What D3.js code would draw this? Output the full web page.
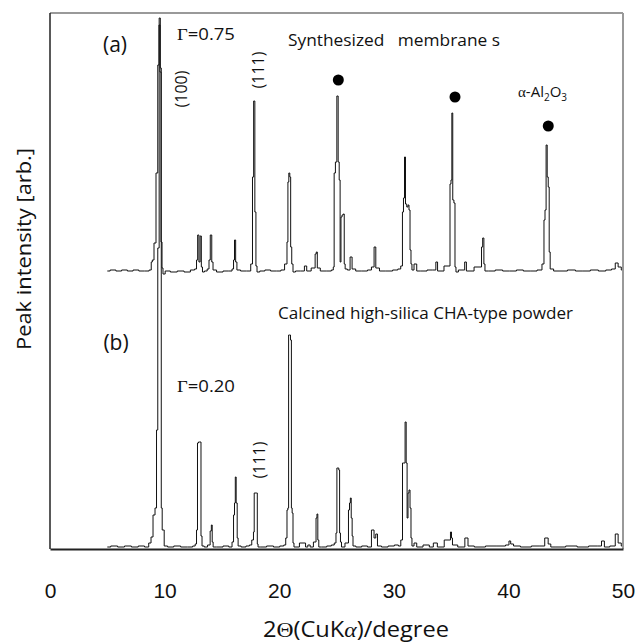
<!DOCTYPE html>
<html>
<head>
<meta charset="utf-8">
<script src="https://cdn.jsdelivr.net/npm/d3@7"></script>
<style>
    body { margin: 0; background: #fff; }
    svg { display: block; }
    .trace { fill: none; stroke: #111; stroke-width: 1; stroke-linejoin: miter; }
    .lbl { font-family: "Open Sans", "Noto Sans", sans-serif; fill: #111; }
</style>
</head>
<body>
<svg id="chart" width="637" height="643"></svg>
<script>
// 2theta (degree) and intensity (arb.)
// (a) synthesized membrane, intensity above its own baseline
const membraneA = [
    [5.0, 1], [5.5, 2], [6.0, 1], [6.5, 2], [7.0, 1], [7.5, 2], [8.0, 1], [8.5, 1], [8.8, 2],
    [8.87, 10], [8.99, 12], [9.16, 29], [9.34, 99], [9.47, 207], [9.55, 247], [9.64, 200],
    [9.73, 30], [9.82, 4], [9.9, -2],
    [10.2, 1], [10.8, 0], [11.4, 1], [12.0, 0], [12.5, 2],
    [12.74, 3], [12.83, 12], [12.94, 37], [13.05, 10], [13.15, 36], [13.26, 5], [13.35, 0],
    [13.6, 1], [13.83, 3], [13.92, 12], [14.05, 37], [14.18, 10], [14.27, 2],
    [14.8, 0], [15.4, 1], [15.8, 1],
    [15.97, 3], [16.06, 12], [16.14, 32], [16.26, 10], [16.36, 2],
    [16.9, 1], [17.4, 1],
    [17.63, 8], [17.71, 95], [17.83, 171], [17.92, 60], [18.02, 6], [18.11, 0],
    [18.5, 1], [19.0, 2], [19.5, 1], [20.0, 1], [20.3, 2],
    [20.64, 8], [20.72, 30], [20.8, 90], [20.88, 99], [20.97, 95], [21.03, 25], [21.16, 8], [21.25, 0],
    [21.6, 1], [22.1, 1], [22.3, 6], [22.5, 1],
    [23.08, 4], [23.19, 18], [23.28, 20], [23.37, 4],
    [23.8, 1], [24.4, 1], [24.7, 2],
    [24.74, 5], [24.85, 99], [24.96, 110], [25.1, 176], [25.19, 110], [25.28, 92], [25.35, 10],
    [25.43, 55], [25.54, 57], [25.63, 58], [25.72, 8], [25.79, 3],
    [26.1, 2], [26.27, 15], [26.45, 3],
    [26.9, 1], [27.5, 1], [27.9, 2], [28.2, 5], [28.36, 25], [28.5, 4],
    [29.0, 1], [29.6, 1], [30.2, 2], [30.5, 3],
    [30.71, 6], [30.8, 60], [30.89, 74], [30.98, 115], [31.06, 68], [31.2, 65], [31.28, 67],
    [31.37, 62], [31.46, 22], [31.54, 8], [31.63, 2],
    [31.9, 8], [32.1, 1], [32.6, 1], [33.2, 2], [33.6, 2], [33.74, 10], [33.9, 1],
    [34.86, 6], [34.95, 88], [35.03, 92], [35.1, 159], [35.19, 72], [35.3, 69], [35.38, 5], [35.47, 0],
    [35.8, 2], [36.1, 2], [36.27, 10], [36.4, 1],
    [37.61, 5], [37.7, 25], [37.81, 34], [37.91, 8], [38.0, 1],
    [38.5, 1], [39.2, 2], [39.8, 1], [40.4, 1], [41.0, 2], [41.6, 1], [42.2, 1], [42.8, 2],
    [43.06, 8], [43.15, 52], [43.24, 62], [43.34, 127], [43.43, 95], [43.52, 85], [43.6, 20], [43.69, 3],
    [44.2, 1], [44.8, 1], [45.5, 2], [46.2, 1], [46.8, 1], [47.5, 2], [48.2, 1], [48.8, 2],
    [49.2, 3], [49.45, 9], [49.7, 5], [50.0, 2]
];

// (b) calcined high-silica CHA-type powder
const powderB = [
    [5.0, 1], [5.6, 2], [6.2, 1], [6.8, 2], [7.4, 1], [8.0, 2], [8.5, 1],
    [8.73, 5], [8.9, 11], [9.08, 33], [9.25, 40], [9.34, 118], [9.47, 300], [9.58, 530], [9.67, 480],
    [9.75, 40], [9.83, 18], [9.9, 18], [10.03, 2],
    [10.5, 1], [11.1, 2], [11.7, 1], [12.3, 1], [12.6, 2],
    [12.74, 4], [12.83, 18], [12.91, 105], [13.0, 106], [13.13, 106], [13.22, 12], [13.31, 2],
    [13.6, 1], [13.9, 3], [14.05, 17], [14.11, 23], [14.2, 6], [14.27, 1],
    [14.8, 1], [15.4, 2], [15.8, 1],
    [15.97, 6], [16.06, 33], [16.14, 45], [16.2, 71], [16.29, 45], [16.38, 10], [16.45, 2],
    [16.9, 1], [17.3, 2], [17.5, 3],
    [17.71, 8], [17.8, 16], [17.84, 55], [17.95, 55], [18.06, 55], [18.12, 4], [18.19, 1],
    [18.6, 1], [19.2, 2], [19.8, 1], [20.3, 2], [20.5, 3],
    [20.64, 10], [20.72, 38], [20.79, 40], [20.85, 213], [20.94, 213], [21.03, 208], [21.1, 40],
    [21.16, 35], [21.25, 5], [21.33, 1],
    [22.2, 5], [22.4, 1], [22.6, 3], [22.8, 1],
    [23.17, 6], [23.26, 30], [23.33, 34], [23.41, 8], [23.5, 1],
    [23.9, 1], [24.4, 2], [24.7, 3],
    [24.91, 5], [25.0, 15], [25.07, 80], [25.16, 80], [25.24, 78], [25.3, 15], [25.39, 6], [25.48, 1],
    [26.0, 5], [26.09, 38], [26.18, 45], [26.24, 50], [26.33, 30], [26.4, 12], [26.48, 2],
    [26.9, 1], [27.5, 2], [27.9, 1],
    [28.2, 18], [28.35, 10], [28.5, 14], [28.65, 2],
    [29.2, 1], [29.8, 2], [30.3, 3], [30.5, 2],
    [30.72, 8], [30.8, 85], [30.93, 85], [31.04, 126], [31.12, 85], [31.2, 30], [31.28, 55],
    [31.37, 58], [31.46, 40], [31.54, 10], [31.63, 2],
    [31.9, 5], [32.1, 1], [33.0, 3], [33.2, 1], [33.7, 5], [33.9, 1],
    [34.9, 8], [34.99, 16], [35.08, 10], [35.16, 3],
    [36.0, 1], [36.4, 10], [36.55, 2],
    [37.5, 1], [38.5, 2], [39.5, 2], [40.0, 3], [40.1, 7], [40.3, 4], [40.6, 2],
    [41.5, 1], [42.5, 2], [43.0, 2], [43.34, 10], [43.6, 4], [43.8, 1],
    [44.5, 1], [45.5, 2], [46.5, 1], [47.5, 2], [48.0, 2], [48.25, 7], [48.5, 1],
    [49.2, 2], [49.45, 14], [49.7, 5], [50.0, 2]
];

// alpha-Al2O3 support reflections, marked above trace (a)
const aluminaDots = [[25.16, 192], [35.34, 175], [43.48, 146]];

const xTicks = [0, 10, 20, 30, 40, 50];
const offsetA = 277;
const offsetB = 1;

let xrdChart = function(){

    this._selection = null;
    this._size = null;
    this._margin = null;

    this.selection = function(){
        if (arguments.length > 0){
            this._selection = arguments[0];
            return this;
        } else return this._selection;
    }

    this.size = function(){
        if (arguments.length > 0){
            this._size = arguments[0];
            return this;
        } else return this._size;
    }

    this.margin = function(){
        if (arguments.length > 0){
            this._margin = arguments[0];
            return this;
        } else return this._margin;
    }

    this.draw = function(){
        let m = this._margin;
        let w = this._size.w - m.l - m.r;
        let h = this._size.h - m.t - m.b;
        let svg = this._selection;

        let xScale = d3.scaleLinear().domain([0, 50]).range([m.l, m.l + w]);
        let yScale = d3.scaleLinear().domain([0, 536]).range([m.t + h, m.t]);

        // step outline like the scanned diffractogram
        let line = d3.line()
            .curve(d3.curveStep)
            .x(d => xScale(d[0]))
            .y(d => yScale(d[1]));

        svg.append('path')
            .classed('trace', true)
            .attr('d', line(powderB.map(d => [d[0], d[1] + offsetB])));

        svg.append('path')
            .classed('trace', true)
            .attr('d', line(membraneA.map(d => [d[0], d[1] + offsetA])));

        svg.selectAll('.dot')
            .data(aluminaDots)
            .join('circle')
            .classed('dot', true)
            .attr('cx', d => xScale(d[0]))
            .attr('cy', d => yScale(d[1] + offsetA))
            .attr('r', 5.5)
            .attr('fill', '#000');

        // frame: dark left/bottom, grey top/right
        svg.append('line')
            .attr('x1', m.l).attr('x2', m.l + w)
            .attr('y1', m.t).attr('y2', m.t)
            .attr('stroke', '#999').attr('stroke-width', 2);
        svg.append('line')
            .attr('x1', m.l + w).attr('x2', m.l + w)
            .attr('y1', m.t).attr('y2', m.t + h)
            .attr('stroke', '#999').attr('stroke-width', 2);
        svg.append('line')
            .attr('x1', m.l).attr('x2', m.l)
            .attr('y1', m.t).attr('y2', m.t + h)
            .attr('stroke', '#222').attr('stroke-width', 1.5);

        let axis = d3.axisBottom(xScale)
            .tickValues(xTicks)
            .tickSize(0)
            .tickPadding(34);
        let axisG = svg.append('g')
            .attr('transform', `translate(0, ${m.t + h})`)
            .call(axis);
        axisG.select('.domain').attr('stroke', '#222').attr('stroke-width', 2);
        axisG.selectAll('text')
            .style('font-family', '"Liberation Sans", Arial, sans-serif')
            .style('font-size', '21px')
            .attr('fill', '#111');

        this.drawLabels(svg);
    }

    this.drawLabels = function(svg){
        let serif = '"Liberation Serif", "DejaVu Serif", serif';

        let t = svg.append('text').classed('lbl', true)
            .attr('x', 263).attr('y', 637)
            .attr('textLength', 186)
            .attr('lengthAdjust', 'spacingAndGlyphs')
            .style('font-size', '22px');
        t.append('tspan').text('2');
        t.append('tspan').style('font-family', serif).text('Θ');
        t.append('tspan').text('(CuK');
        t.append('tspan').style('font-family', serif).style('font-style', 'italic').text('α');
        t.append('tspan').text(')/degree');

        svg.append('text').classed('lbl', true)
            .attr('transform', 'translate(31, 249) rotate(-90)')
            .attr('text-anchor', 'middle')
            .attr('textLength', 202)
            .attr('lengthAdjust', 'spacingAndGlyphs')
            .style('font-size', '20px')
            .text('Peak intensity [arb.]');

        let small = [
            {t: '(a)', x: 115, y: 52, size: 21, anchor: 'middle'},
            {t: '(b)', x: 116, y: 350, size: 21, anchor: 'middle'},
            {t: 'Synthesized   membrane s', x: 288, y: 46, size: 16, len: 212},
            {t: 'Calcined high-silica CHA-type powder', x: 278, y: 319, size: 16, len: 295}
        ];
        small.forEach(s => {
            let el = svg.append('text').classed('lbl', true)
                .attr('x', s.x).attr('y', s.y)
                .attr('text-anchor', s.anchor || 'start')
                .style('font-size', s.size + 'px')
                .style('white-space', 'pre')
                .text(s.t);
            if (s.len) el.attr('textLength', s.len).attr('lengthAdjust', 'spacingAndGlyphs');
        });

        [{v: '0.75', y: 40}, {v: '0.20', y: 392}].forEach(g => {
            let el = svg.append('text').classed('lbl', true)
                .attr('x', 177).attr('y', g.y)
                .attr('textLength', 58)
                .attr('lengthAdjust', 'spacingAndGlyphs')
                .style('font-size', '17px');
            el.append('tspan').style('font-family', serif).text('Γ');
            el.append('tspan').text('=' + g.v);
        });

        [{t: '(100)', x: 181, y: 89}, {t: '(111)', x: 258, y: 70}, {t: '(111)', x: 259, y: 460}].forEach(r => {
            svg.append('text').classed('lbl', true)
                .attr('transform', `translate(${r.x + 6}, ${r.y}) rotate(-90)`)
                .attr('text-anchor', 'middle')
                .style('font-size', '16px')
                .text(r.t);
        });

        let al = svg.append('text').classed('lbl', true)
            .attr('x', 518).attr('y', 97)
            .style('font-size', '15px');
        al.append('tspan').style('font-family', serif).text('α');
        al.append('tspan').text('-Al');
        al.append('tspan').attr('dy', 4).style('font-size', '10px').text('2');
        al.append('tspan').attr('dy', -4).text('O');
        al.append('tspan').attr('dy', 4).style('font-size', '10px').text('3');
    }
}

new xrdChart()
    .selection(d3.select('#chart'))
    .size({w: 637, h: 643})
    .margin({l: 50, r: 14, t: 13, b: 94})
    .draw();
</script>
</body>
</html>
